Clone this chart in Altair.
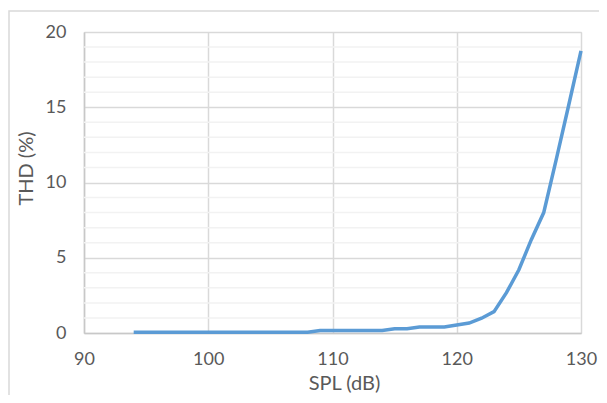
import altair as alt
import pandas as pd

spl = list(range(94, 131))
thd = [0.05] * 15 + [0.17] * 6 + [0.28, 0.28, 0.40, 0.40, 0.40, 0.53, 0.66, 0.98, 1.42,
                                   2.68, 4.2, 6.2, 8.0, 11.5, 15.1, 18.75]
minor_y = [v for v in range(1, 20) if v % 5 != 0]
x_ticks = [90, 100, 110, 120, 130]
y_ticks = [0, 5, 10, 15, 20]

df = pd.DataFrame({"SPL": spl, "THD": thd})
minor_df = pd.DataFrame({"THD": minor_y})

FONT = "Lato"
TXT = "#595959"
GRID = "#d9d9d9"

xscale = alt.Scale(domain=[90, 130], nice=False, zero=False)
yscale = alt.Scale(domain=[0, 20], nice=False)

x_axis = alt.Axis(values=x_ticks, title="SPL (dB)", grid=True, gridColor=GRID,
                  gridWidth=1.5, ticks=False, domainColor="#c8c8c8", domainWidth=1.5,
                  labelFlush=False, labelOverlap=False,
                  labelPadding=17, labelFontSize=18, labelColor=TXT, labelFont=FONT,
                  titleFont=FONT, titleFontSize=20, titleColor=TXT, titleFontWeight="normal",
                  titleX=260, titleY=50, titleBaseline="middle", titleAlign="center")
y_axis = alt.Axis(values=y_ticks, title="THD (%)", grid=True, gridColor=GRID,
                  gridWidth=1.5, ticks=False, domainColor="#c8c8c8", domainWidth=1.5,
                  labelFlush=False,
                  labelPadding=18, labelFontSize=18, labelColor=TXT, labelFont=FONT,
                  titleFont=FONT, titleFontSize=20, titleColor=TXT, titleFontWeight="normal",
                  titleX=-58, titleY=136, titleBaseline="middle", titleAlign="center",
                  titleAngle=270)

border = alt.Chart(pd.DataFrame({"a": [0]})).mark_rect(
    fill=None, stroke="#d9d9d9", strokeWidth=1.5, clip=False
).encode(
    x=alt.value(-75), x2=alt.value(560), y=alt.value(-21), y2=alt.value(420)
)

minor = alt.Chart(minor_df).mark_rule(color="#f2f2f2", strokeWidth=1.5).encode(
    y=alt.Y("THD:Q", scale=yscale, axis=y_axis)
)

line = alt.Chart(df).mark_line(color="#5b9bd5", strokeWidth=3.5).encode(
    x=alt.X("SPL:Q", scale=xscale, axis=x_axis),
    y=alt.Y("THD:Q", scale=yscale, axis=y_axis)
)

chart = alt.layer(border, minor, line).properties(
    width=497, height=301,
    autosize=alt.AutoSizeParams(type="none"),
    padding={"left": 76, "top": 24, "right": 18, "bottom": 62},
).configure_view(stroke=GRID, strokeWidth=1.5).configure(background="white")

chart.save("out.html", embed_options={"renderer": "svg", "actions": False})
